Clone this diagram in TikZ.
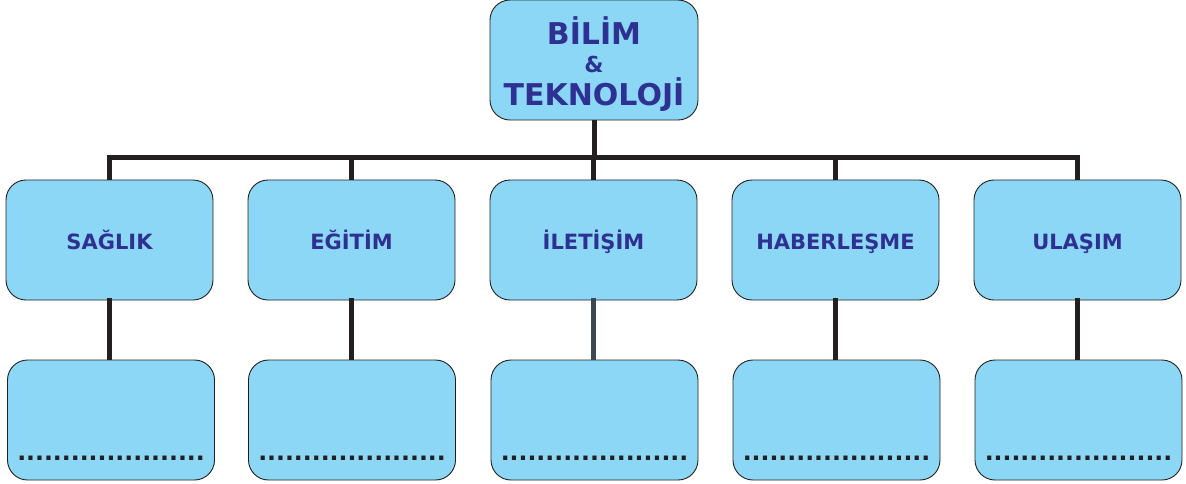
\documentclass[tikz,border=0pt]{standalone}
\usepackage{fontspec}
\setmainfont{DejaVu Sans}
\begin{document}
\begin{tikzpicture}[x=1pt,y=-1pt,
  box/.style={draw=boxline,line width=0.9pt,fill=boxfill,rounded corners=20pt,
    minimum width=207pt,minimum height=120pt,inner sep=0pt,
    text=txtblue,font=\bfseries\fontsize{21}{24}\selectfont,
    text height=19pt,text depth=0pt},
  conn/.style={draw=lineblack,line width=5pt},
  dotrow/.style={text=lineblack,font=\bfseries\fontsize{23.5}{26}\selectfont,inner sep=0pt,anchor=base}
]
\definecolor{boxfill}{HTML}{8CD7F6}
\definecolor{boxline}{HTML}{231F20}
\definecolor{txtblue}{HTML}{2E3192}
\definecolor{lineblack}{HTML}{231F20}
\definecolor{lineslate}{HTML}{3A4A50}
\useasboundingbox (0,0) rectangle (1186,483);
% top
\node[box,minimum width=208pt] (top) at (594,60) {};
\node[text=txtblue,font=\bfseries\fontsize{30}{34}\selectfont] (t1) at (594,31) {BİLİM};
\node[text=txtblue,font=\bfseries\fontsize{22}{24}\selectfont] (t2) at (594,64) {\&};
\node[text=txtblue,font=\bfseries\fontsize{30}{34}\selectfont] (t3) at (594,95) {TEKNOLOJİ};
% row
\node[box] (r1) at (109.5,240) {SAĞLIK};
\node[box] (r2) at (351.5,240) {EĞİTİM};
\node[box] (r3) at (593.5,240) {İLETİŞİM};
\node[box] (r4) at (835.5,240) {HABERLEŞME};
\node[box] (r5) at (1077.5,240) {ULAŞIM};
% bottom
\node[box] (b1) at (111,420) {};
\node[box] (b2) at (352,420) {};
\node[box] (b3) at (594.5,420) {};
\node[box] (b4) at (836.5,420) {};
\node[box] (b5) at (1078.5,420) {};
% dots
\foreach \i in {1,...,5}{
  \node[dotrow] (d\i) at (b\i.south |- 0,460) {.....................};
}
% connectors
\coordinate (bar) at (594,157);
\draw[conn] (top.south) -- (bar);
\draw[conn] (r1.north) |- (bar) -| (r5.north);
\draw[conn] (r2.north) -- (r2.north |- bar);
\draw[conn] (r3.north) -- (r3.north |- bar);
\draw[conn] (r4.north) -- (r4.north |- bar);
\draw[conn] ([yshift=2pt]r1.south) -- (b1.north -| r1.south);
\draw[conn] ([yshift=2pt]r2.south) -- (b2.north -| r2.south);
\draw[conn,draw=lineslate] ([yshift=2pt]r3.south) -- (b3.north -| r3.south);
\draw[conn] ([yshift=2pt]r4.south) -- (b4.north -| r4.south);
\draw[conn] ([yshift=2pt]r5.south) -- (b5.north -| r5.south);
\end{tikzpicture}
\end{document}
